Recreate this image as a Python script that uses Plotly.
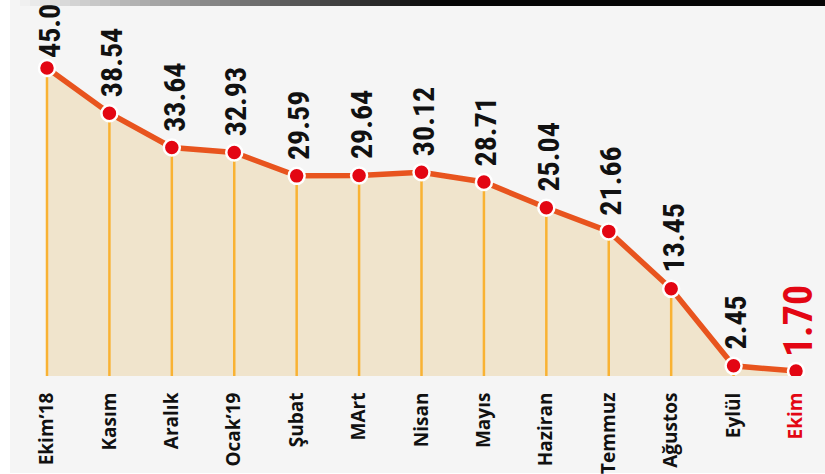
import plotly.graph_objects as go

categories = ["Ekim’18", "Kasım", "Aralık", "Ocak’19", "Şubat", "MArt", "Nisan",
              "Mayıs", "Haziran", "Temmuz", "Ağustos", "Eylül", "Ekim"]
values = [45.00, 38.54, 33.64, 32.93, 29.59, 29.64, 30.12, 28.71, 25.04, 21.66, 13.45, 2.45, 1.70]
labels = ["45.0", "38.54", "33.64", "32.93", "29.59", "29.64", "30.12", "28.71",
          "25.04", "21.66", "13.45", "2.45", "1.70"]

W, H = 825, 474
RED = "#e30613"
LINE = "#e8541e"
ORANGE = "#f9b233"
FILL = "#f0e4cc"

fig = go.Figure()

# area fill
fig.add_trace(go.Scatter(x=categories, y=values, mode="lines", line=dict(width=0, color=FILL),
                         fill="tozeroy", fillcolor=FILL, hoverinfo="skip", showlegend=False))
# vertical drop lines
fig.add_trace(go.Scatter(x=categories, y=values, mode="markers", marker=dict(size=1, opacity=0),
                         error_y=dict(type="data", symmetric=False, array=[0]*len(values),
                                      arrayminus=values, color=ORANGE, thickness=2.5, width=0),
                         hoverinfo="skip", showlegend=False))
# line + markers
fig.add_trace(go.Scatter(x=categories, y=values, mode="lines+markers",
                         line=dict(color=LINE, width=5.5),
                         marker=dict(size=16, color=RED, line=dict(color="white", width=2.5)),
                         showlegend=False))

ticktext = [c if i < len(categories) - 1 else f"<span style='color:{RED}'><b>{c}</b></span>"
            for i, c in enumerate(categories)]

annotations = []
for i, (c, v, t) in enumerate(zip(categories, values, labels)):
    last = i == len(categories) - 1
    first = i == 0
    annotations.append(dict(
        x=c, y=v, xref="x", yref="y", text=f"<b>{t}</b>", showarrow=False,
        textangle=-90, xanchor="center", yanchor="bottom",
        yshift=12 if last else (8 if first else 14),
        xshift=2,
        font=dict(family="Liberation Sans Narrow, Roboto Condensed, Roboto, sans-serif",
                  size=40 if last else 30, color=RED if last else "#111111"),
    ))

shapes = []
# gray panel
shapes.append(dict(type="rect", xref="paper", yref="paper", x0=10 / W, x1=1.0,
                   y0=(376 - 473) / 376, y1=(376 - 6) / 376, fillcolor="#f5f5f5",
                   line=dict(width=0), layer="below"))
# top gradient bar
x_start, x_end = 10, 440
step = 10
xx = x_start
while xx < W:
    f = min(max((xx + step / 2 - x_start) / (x_end - x_start), 0), 1)
    g = int(round(248 * (1 - f) + 6 * f))
    shapes.append(dict(type="rect", xref="paper", yref="paper", x0=xx / W, x1=min(xx + step + 0.5, W) / W,
                       y0=(376 - 6) / 376, y1=1.0, fillcolor=f"rgb({g},{g},{g})",
                       line=dict(width=0), layer="above"))
    xx += step

fig.update_layout(
    width=W, height=H,
    margin=dict(l=0, r=0, t=0, b=98),
    paper_bgcolor="white", plot_bgcolor="rgba(0,0,0,0)",
    shapes=shapes, annotations=annotations,
    xaxis=dict(range=[-47 / 62.42, 12 + 29 / 62.42], showgrid=False, zeroline=False, showline=False,
               tickangle=-90, ticks="outside", ticklen=8, tickcolor="rgba(0,0,0,0)",
               tickvals=categories, ticktext=ticktext,
               tickfont=dict(family="Open Sans, sans-serif", size=19, color="#111111", weight=700)),
    yaxis=dict(range=[1.0, 1.0 + 376 / 7.0], visible=False, showgrid=False, zeroline=False),
)

fig.write_html("out.html", config={"displayModeBar": False},
               post_script="document.body.style.margin='0px';document.body.style.padding='0px';")
